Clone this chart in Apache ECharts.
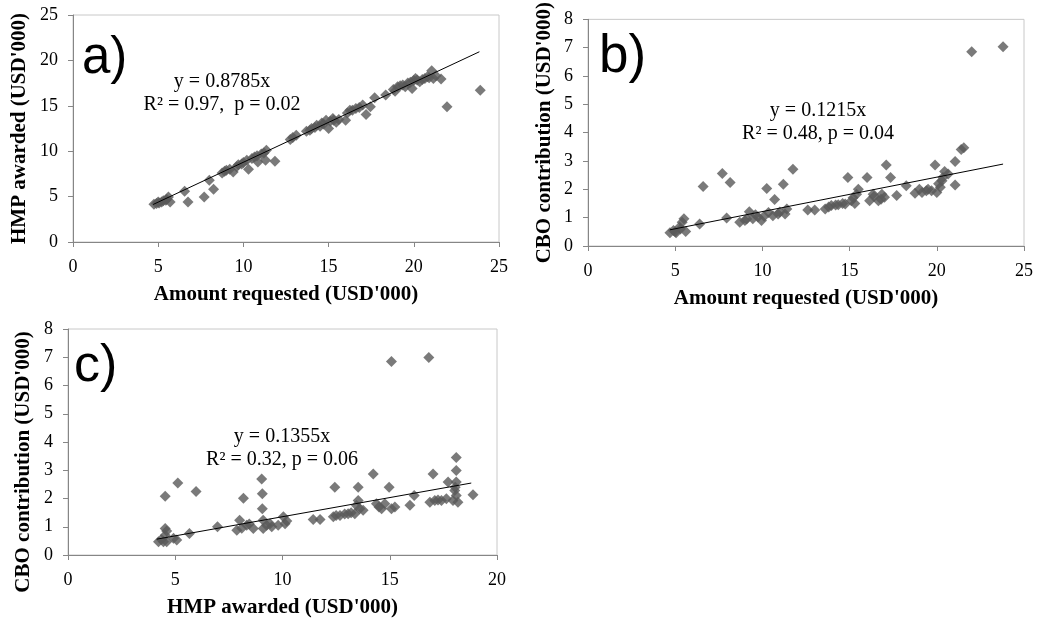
<!DOCTYPE html>
<html>
<head>
<meta charset="utf-8">
<script src="https://cdn.jsdelivr.net/npm/echarts@6/dist/echarts.min.js"></script>
<style>
html, body { margin: 0; padding: 0; background: #fff; }
#main { width: 1043px; height: 619px; }
</style>
</head>
<body>
<div id="main"></div>
<script>
// a) amount requested vs HMP awarded
var reqA = [4.75, 5.0, 5.2, 5.45, 5.6, 5.7, 6.55, 6.75, 7.7, 8.0, 8.25, 8.75, 9.0, 9.4, 9.6, 9.9, 10.2, 10.3, 10.65, 10.85,
    11.05, 11.35, 11.3, 11.85, 12.75, 13.1, 13.7, 14.0, 14.3, 14.6, 14.85, 15.0, 15.25, 15.45, 16.0, 16.25, 16.6, 17.0, 17.2, 17.45,
    17.7, 18.35, 18.8, 19.05, 19.35, 19.65, 19.9, 20.1, 20.35, 20.65, 21.05, 21.15, 21.6, 21.95, 23.9,
    5.05, 5.3, 9.2, 10.0, 10.5, 14.2, 15.1, 15.6, 16.4, 19.2, 19.8, 20.0, 20.5, 20.9,
    4.9, 5.5, 8.9, 9.7, 10.8, 11.2, 12.9, 13.9, 14.5, 14.7, 15.3, 16.1, 16.8, 18.9, 19.5, 20.2, 20.8, 21.3];
var hmpA = [4.15, 4.4, 4.4, 4.6, 4.95, 4.4, 5.6, 4.4, 4.95, 6.8, 5.8, 7.6, 7.9, 7.7, 8.3, 8.6, 9.0, 8.0, 9.35, 8.8,
    9.7, 10.1, 9.0, 8.9, 11.3, 11.75, 12.2, 12.5, 12.85, 13.1, 13.4, 12.5, 13.6, 13.2, 13.4, 14.5, 14.7, 15.1, 14.05, 14.9,
    15.9, 16.2, 16.8, 17.1, 17.3, 17.5, 16.9, 18.0, 17.65, 18.0, 18.85, 18.0, 17.95, 14.9, 16.7,
    4.3, 4.55, 8.0, 8.75, 9.2, 12.6, 13.3, 13.5, 14.5, 17.2, 17.6, 17.8, 17.9, 18.1,
    4.25, 4.7, 7.8, 8.5, 9.5, 9.8, 11.5, 12.3, 12.75, 13.0, 13.4, 14.2, 14.8, 16.6, 17.1, 17.85, 18.2, 18.3];

// b) amount requested vs CBO contribution
var reqB = [4.7, 4.9, 5.05, 5.25, 5.4, 5.5, 5.6, 6.4, 6.6, 7.7, 7.95, 8.15, 8.7, 9.0, 9.25, 9.45, 9.75, 9.95, 10.25, 10.35,
    10.6, 10.7, 10.9, 11.2, 11.3, 11.4, 11.75, 12.6, 13.0, 13.6, 13.95, 14.35, 14.75, 14.9, 15.1, 15.3, 15.4, 15.5, 16.0, 16.15,
    16.35, 16.65, 16.85, 17.0, 17.1, 17.35, 17.7, 18.25, 18.75, 19.15, 19.4, 19.7, 19.9, 20.0, 20.2, 20.35, 20.45, 20.65, 21.05, 21.05,
    21.4, 21.55, 22.0, 23.8,
    5.0, 5.3, 9.1, 9.6, 10.1, 11.0, 13.8, 14.2, 14.6, 15.2, 16.4, 16.8, 19.0, 19.5, 20.1, 20.3];
var cboB = [0.47, 0.55, 0.47, 0.67, 0.84, 0.96, 0.51, 0.78, 2.1, 2.56, 0.99, 2.24, 0.84, 0.9, 1.21, 0.96, 1.02, 0.9, 2.03, 1.18,
    1.07, 1.64, 1.13, 2.18, 1.13, 1.31, 2.71, 1.27, 1.27, 1.31, 1.43, 1.46, 1.48, 2.42, 1.6, 1.5, 1.83, 2.0, 2.42, 1.6,
    1.83, 1.6, 1.83, 1.72, 2.86, 2.42, 1.78, 2.13, 1.86, 1.89, 1.95, 1.95, 2.86, 1.89, 2.07, 2.42, 2.63, 2.54, 2.98, 2.15,
    3.41, 3.47, 6.86, 7.03,
    0.5, 0.6, 0.95, 1.1, 1.05, 1.2, 1.38, 1.45, 1.5, 1.7, 1.75, 1.65, 2.0, 2.0, 2.2, 2.3];

// c) HMP awarded vs CBO contribution
var hmpC = [4.22, 4.45, 4.53, 4.53, 4.53, 4.6, 4.92, 5.07, 5.12, 5.66, 5.97, 6.97, 7.87, 8.0, 8.18, 8.33, 8.64, 9.03, 9.06, 9.06,
    9.1, 9.1, 9.26, 9.42, 9.8, 10.04, 10.12, 11.43, 11.75, 12.44, 12.37, 12.68, 13.06, 13.37, 13.53, 13.53, 13.6, 13.76, 14.23, 14.38,
    14.62, 14.77, 14.97, 15.08, 15.08, 15.24, 15.94, 16.14, 16.82, 16.87, 17.02, 17.1, 17.41, 17.64, 17.72, 17.95, 18.03, 18.1, 18.1, 18.1,
    18.1, 18.18, 18.88,
    4.35, 4.6, 8.1, 8.45, 9.5, 10.2, 12.5, 12.9, 13.2, 13.45, 14.5, 17.25, 18.05];
var cboC = [0.47, 0.47, 2.08, 0.94, 0.7, 0.47, 0.59, 0.53, 2.55, 0.76, 2.25, 1.0, 0.88, 1.23, 2.01, 1.05, 0.94, 2.69, 2.17, 1.64,
    1.23, 0.94, 1.05, 1.11, 1.05, 1.35, 1.11, 1.26, 1.26, 2.4, 1.35, 1.4, 1.46, 1.46, 2.4, 1.93, 1.64, 1.58, 2.87, 1.81,
    1.64, 1.81, 2.4, 6.85, 1.64, 1.7, 1.76, 2.11, 6.99, 1.87, 2.87, 1.93, 1.93, 1.99, 2.58, 1.93, 2.28, 3.45, 2.99, 2.58,
    2.11, 1.87, 2.13,
    0.55, 0.85, 0.95, 1.1, 1.0, 1.2, 1.4, 1.45, 1.5, 1.75, 1.7, 1.95, 2.4];

// fitted lines through the origin: slope and x-range of the drawn segment
var slopes = [0.8785, 0.1215, 0.1355];
var fitRangeA = [4.7, 23.85];
var fitRangeB = [4.7, 23.8];
var fitRangeC = [4.14, 18.8];

var eqText = [
    'y = 0.8785x\nR² = 0.97,  p = 0.02',
    'y = 0.1215x\nR² = 0.48, p = 0.04',
    'y = 0.1355x\nR² = 0.32, p = 0.06'
];

function zip(xs, ys) {
    return xs.map(function (x, i) { return [x, ys[i]]; });
}
function fitLine(range, k) {
    return range.map(function (x) { return [x, k * x]; });
}

var serif = '"Liberation Serif", "DejaVu Serif", serif';
var dotColor = '#595959';

function xAx(idx, max, name) {
    return {
        gridIndex: idx, type: 'value', min: 0, max: max, interval: 5,
        name: name, nameLocation: 'middle', nameGap: 42,
        nameTextStyle: { fontFamily: serif, fontWeight: 'bold', fontSize: 21, color: '#000' },
        axisLine: { lineStyle: { color: '#868686', width: 1 } },
        axisTick: { show: true, length: 5, lineStyle: { color: '#868686' } },
        axisLabel: { fontFamily: serif, fontSize: 18, color: '#000', margin: 16 },
        splitLine: { show: false }
    };
}
function yAx(idx, max, step, name, gap, pad) {
    return {
        gridIndex: idx, type: 'value', min: 0, max: max, interval: step,
        name: name, nameLocation: 'middle', nameGap: gap,
        nameTextStyle: { fontFamily: serif, fontWeight: 'bold', fontSize: 21, color: '#000', padding: pad || 0 },
        axisLine: { show: true, lineStyle: { color: '#868686', width: 1 } },
        axisTick: { show: true, length: 5, lineStyle: { color: '#868686' } },
        axisLabel: { fontFamily: serif, fontSize: 18, color: '#000', margin: 15 },
        splitLine: { show: false }
    };
}

var myChart = echarts.init(document.getElementById('main'));

var option = {
    backgroundColor: '#fff',
    animation: false,
    grid: [
        { left: 73, top: 15, width: 426, height: 227, show: true, borderColor: '#c8c8c8', borderWidth: 1 },
        { left: 588, top: 17, width: 436, height: 229, show: true, borderColor: '#c8c8c8', borderWidth: 1 },
        { left: 68, top: 329, width: 429, height: 228, show: true, borderColor: '#c8c8c8', borderWidth: 1 }
    ],
    xAxis: [
        xAx(0, 25, "Amount requested (USD'000)"),
        xAx(1, 25, "Amount requested (USD'000)"),
        xAx(2, 20, "HMP awarded (USD'000)")
    ],
    yAxis: [
        yAx(0, 25, 5, "HMP awarded (USD'000)", 43),
        yAx(1, 8, 1, "CBO contribution (USD'000)", 33),
        yAx(2, 8, 1, "CBO contribution (USD'000)", 34, [0, 40, 0, 0])
    ],
    series: [
        { type: 'scatter', xAxisIndex: 0, yAxisIndex: 0, data: zip(reqA, hmpA), symbol: 'diamond', symbolSize: 11, itemStyle: { color: dotColor } },
        { type: 'scatter', xAxisIndex: 1, yAxisIndex: 1, data: zip(reqB, cboB), symbol: 'diamond', symbolSize: 11, itemStyle: { color: dotColor } },
        { type: 'scatter', xAxisIndex: 2, yAxisIndex: 2, data: zip(hmpC, cboC), symbol: 'diamond', symbolSize: 11, itemStyle: { color: dotColor } },
        { type: 'line', xAxisIndex: 0, yAxisIndex: 0, data: fitLine(fitRangeA, slopes[0]), symbol: 'none', z: 5, lineStyle: { color: '#000', width: 1 } },
        { type: 'line', xAxisIndex: 1, yAxisIndex: 1, data: fitLine(fitRangeB, slopes[1]), symbol: 'none', z: 5, lineStyle: { color: '#000', width: 1 } },
        { type: 'line', xAxisIndex: 2, yAxisIndex: 2, data: fitLine(fitRangeC, slopes[2]), symbol: 'none', z: 5, lineStyle: { color: '#000', width: 1 } }
    ],
    graphic: [
        { type: 'text', left: 82, top: 33, style: { text: 'a)', font: '51px "Liberation Sans", Arial, sans-serif', fill: '#000' } },
        { type: 'text', left: 599, top: 31, style: { text: 'b)', font: '53px "Liberation Sans", Arial, sans-serif', fill: '#000' } },
        { type: 'text', left: 74, top: 341, style: { text: 'c)', font: '52px "Liberation Sans", Arial, sans-serif', fill: '#000' } },
        { type: 'text', x: 222, y: 70, style: { text: eqText[0], font: '20px ' + serif, fill: '#000', align: 'center', lineHeight: 23 } },
        { type: 'text', x: 818, y: 99, style: { text: eqText[1], font: '20px ' + serif, fill: '#000', align: 'center', lineHeight: 23 } },
        { type: 'text', x: 282, y: 425, style: { text: eqText[2], font: '20px ' + serif, fill: '#000', align: 'center', lineHeight: 23 } }
    ]
};

myChart.setOption(option);
</script>
</body>
</html>
